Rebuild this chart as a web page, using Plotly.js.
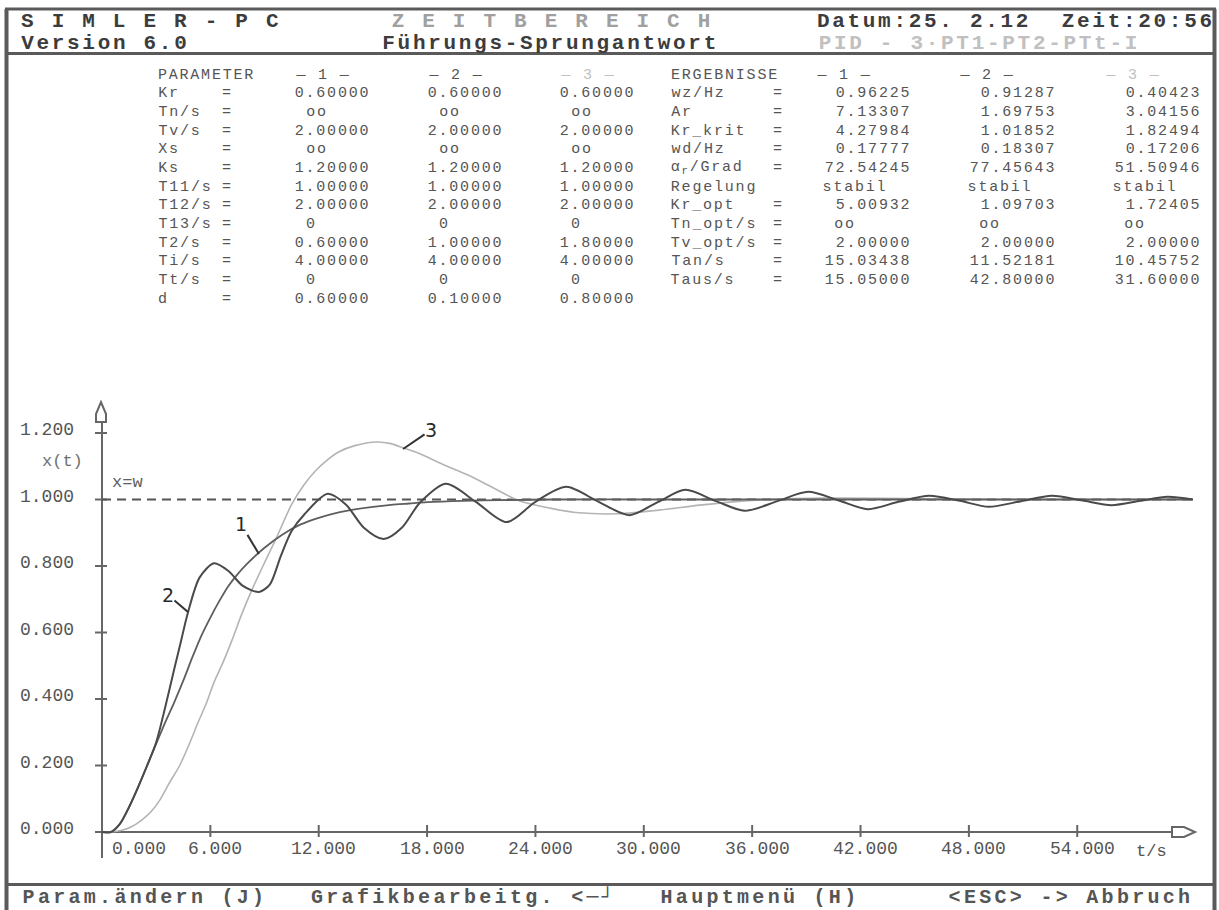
<!DOCTYPE html>
<html><head><meta charset="utf-8">
<script src="https://cdn.plot.ly/plotly-3.0.1.min.js"></script>
<style>html,body{margin:0;padding:0;background:#fff;overflow:hidden;}</style>
<style id="spacing"></style>
</head><body>
<div id="chart" style="width:1219px;height:910px;"></div>
<script>
// ---------------- data ----------------
const timeCurve1 = [0, 0.5, 1.0, 1.5, 2.0, 2.5, 3.0, 3.5, 4.0, 4.5, 5.0, 5.5, 6.0, 6.5, 7.0, 7.5, 8.0, 9.0, 10.0, 11.0, 12.0, 13.0, 14.0, 15.0, 16.0, 17.0, 18.0, 20.0, 22.0, 25.0, 30.0, 40.0, 50.0, 60.4];
const xCurve1    = [0, 0.0, 0.025, 0.075, 0.135, 0.2, 0.265, 0.33, 0.39, 0.455, 0.525, 0.59, 0.645, 0.695, 0.74, 0.775, 0.805, 0.855, 0.895, 0.925, 0.945, 0.96, 0.97, 0.978, 0.984, 0.988, 0.992, 0.996, 0.998, 1.0, 1.0, 1.0, 1.0, 1.0];

const timeCurve2 = [0, 0.5, 1.0, 1.5, 2.0, 2.5, 3.0, 3.5, 4.0, 4.4, 4.76, 5.4, 6.2, 7.0, 7.8, 8.7, 9.3, 9.9, 10.5, 11.2, 12.5, 13.5, 14.5, 15.6, 16.6, 17.6, 19.05, 20.7, 22.4, 24.0, 25.7, 27.5, 29.2, 30.8, 32.3, 34.0, 35.6, 37.4, 39.1, 40.8, 42.4, 44.1, 45.8, 47.5, 49.1, 50.9, 52.6, 54.3, 55.9, 57.5, 59.0, 60.4];
const xCurve2    = [0, 0.0, 0.025, 0.075, 0.135, 0.2, 0.27, 0.375, 0.49, 0.58, 0.66, 0.765, 0.808, 0.785, 0.74, 0.722, 0.745, 0.83, 0.905, 0.955, 1.017, 0.985, 0.915, 0.881, 0.915, 0.99, 1.047, 0.993, 0.932, 0.993, 1.038, 0.993, 0.953, 0.993, 1.029, 0.995, 0.966, 0.995, 1.023, 0.997, 0.971, 0.993, 1.011, 0.996, 0.978, 0.995, 1.011, 0.997, 0.983, 0.996, 1.008, 1.0];

const timeCurve3 = [0, 0.5, 1.1, 1.6, 2.2, 2.7, 3.2, 3.7, 4.3, 4.8, 5.3, 5.8, 6.2, 6.7, 7.2, 7.7, 8.3, 9.0, 9.6, 10.5, 11.2, 11.8, 12.5, 13.1, 14.0, 15.2, 16.0, 16.7, 17.5, 18.5, 19.2, 20.2, 21.5, 23.1, 24.8, 26.4, 28.5, 30.3, 33.1, 34.9, 37.0, 40.0, 45.0, 50.0, 55.0, 60.4];
const xCurve3    = [0, 0, 0.005, 0.015, 0.036, 0.06, 0.096, 0.145, 0.2, 0.26, 0.327, 0.39, 0.45, 0.51, 0.577, 0.65, 0.728, 0.81, 0.878, 0.985, 1.045, 1.085, 1.12, 1.143, 1.162, 1.173, 1.168, 1.155, 1.14, 1.115, 1.098, 1.075, 1.04, 0.996, 0.974, 0.96, 0.957, 0.965, 0.983, 0.993, 1.0, 1.004, 1.003, 1.0, 1.0, 1.0];

const setpointValue = 1.0;
const tEnd = 60.4;

const xTickVals = [0, 6, 12, 18, 24, 30, 36, 42, 48, 54];
const xTickText = ['0.000', '6.000', '12.000', '18.000', '24.000', '30.000', '36.000', '42.000', '48.000', '54.000'];
const yTickVals = [0, 0.2, 0.4, 0.6, 0.8, 1.0, 1.2];
const yTickText = ['0.000', '0.200', '0.400', '0.600', '0.800', '1.000', '1.200'];

const paramNames = ['Kr', 'Tn/s', 'Tv/s', 'Xs', 'Ks', 'T11/s', 'T12/s', 'T13/s', 'T2/s', 'Ti/s', 'Tt/s', 'd'];
const paramSet1 = ['0.60000', 'oo', '2.00000', 'oo', '1.20000', '1.00000', '2.00000', '0', '0.60000', '4.00000', '0', '0.60000'];
const paramSet2 = ['0.60000', 'oo', '2.00000', 'oo', '1.20000', '1.00000', '2.00000', '0', '1.00000', '4.00000', '0', '0.10000'];
const paramSet3 = ['0.60000', 'oo', '2.00000', 'oo', '1.20000', '1.00000', '2.00000', '0', '1.80000', '4.00000', '0', '0.80000'];

const resultNames = ['wz/Hz', 'Ar', 'Kr_krit', 'wd/Hz', 'α<sub>r</sub>/Grad', 'Regelung', 'Kr_opt', 'Tn_opt/s', 'Tv_opt/s', 'Tan/s', 'Taus/s'];
const resultSet1 = ['0.96225', '7.13307', '4.27984', '0.17777', '72.54245', 'stabil', '5.00932', 'oo', '2.00000', '15.03438', '15.05000'];
const resultSet2 = ['0.91287', '1.69753', '1.01852', '0.18307', '77.45643', 'stabil', '1.09703', 'oo', '2.00000', '11.52181', '42.80000'];
const resultSet3 = ['0.40423', '3.04156', '1.82494', '0.17206', '51.50946', 'stabil', '1.72405', 'oo', '2.00000', '10.45752', '31.60000'];

const headerLeft = ['S I M L E R - P C', 'Version 6.0'];
const headerMid = ['Z E I T B E R E I C H', 'Führungs-Sprungantwort'];
const headerRight = ['Datum:25. 2.12  Zeit:20:56', 'PID - 3·PT1-PT2-PTt-I'];
const footerItems = ['Param.ändern (J)', 'Grafikbearbeitg. &lt;─┘', 'Hauptmenü (H)', '&lt;ESC&gt; -&gt; Abbruch'];

// ---------------- geometry ----------------
const W = 1219, H = 910;
const T0PX = 102, PXT = 18.06, Y0PX = 832, PXY = 332.5;
const tOf = px => (px - T0PX) / PXT;
const vOf = py => (Y0PX - py) / PXY;
const MONO = 'Liberation Mono, DejaVu Sans Mono, monospace';

const dark = '#3c3c3c', mid = '#555555';

const annotations = [];
const spacing = [];
function addAnn(a, ls) { annotations.push(a); spacing.push(ls || 0); }
function visLen(s) {
  return s.replace(/<sub>.*?<\/sub>/g, 'x').replace(/<[^>]+>/g, '').replace(/&[a-z]+;/g, 'x').length;
}
// Plotly centres annotation text; letter spacing widens it symmetrically, so compensate.
function ptext(text, px, py, size, color, anchor, ls) {
  anchor = anchor || 'left';
  let shift = 0;
  if (ls) {
    const grow = visLen(text) * ls;
    if (anchor === 'left') shift = grow / 2;
    else if (anchor === 'right') shift = -(grow / 2 - ls);
  }
  addAnn({
    xref: 'paper', yref: 'paper', x: px / W, y: 1 - py / H, xshift: shift,
    xanchor: anchor, yanchor: 'middle', text: text, showarrow: false,
    borderpad: 0, font: {family: MONO, size: size, color: color}
  }, ls);
}

// header (bitmap-like wide monospace: font + letter spacing -> ~15.3 px cell)
const hdrY = [21, 43];
const HS = 21, HLS = 2.7;
ptext('<b>' + headerLeft[0] + '</b>', 20, hdrY[0], HS, dark, 'left', HLS);
ptext('<b>' + headerLeft[1] + '</b>', 20, hdrY[1], HS, dark, 'left', HLS);
ptext('<b>' + headerMid[0] + '</b>', 391, hdrY[0], HS, '#a0a0a0', 'left', HLS);
ptext('<b>' + headerMid[1] + '</b>', 381, hdrY[1], HS, dark, 'left', HLS);
ptext('<b>' + headerRight[0] + '</b>', 816, hdrY[0], HS, dark, 'left', HLS);
ptext('<b>' + headerRight[1] + '</b>', 818, hdrY[1], HS, '#c0c0c0', 'left', HLS);
// footer
const FS = 20, FLS = 3.3;
const footX = [22, 310, 660, 948];
footerItems.forEach((s, i) => ptext('<b>' + s + '</b>', footX[i], 897, FS, mid, 'left', FLS));

// parameter table
const TS = 15, TLS = 1.8;
const row0 = 75, rowH = 18.67;
const lColX = [294, 427, 559];
ptext('PARAMETER', 157, row0, TS, mid, 'left', TLS);
['\u2014 1 \u2014', '\u2014 2 \u2014', '\u2014 3 \u2014'].forEach((s, i) =>
  ptext(s, lColX[i], row0, TS, i === 2 ? '#c0c0c0' : mid, 'left', TLS));
const pSets = [paramSet1, paramSet2, paramSet3];
paramNames.forEach((nm, r) => {
  const py = row0 + rowH * (r + 1);
  ptext(nm, 157, py, TS, mid, 'left', TLS);
  ptext('=', 221, py, TS, mid, 'left', TLS);
  pSets.forEach((set, c) => {
    const v = set[r];
    const off = (v === 'oo' || v === '0') ? 11 : 0;
    ptext(v, lColX[c] + off, py, TS, mid, 'left', TLS);
  });
});

// results table
const rEdge = [910, 1055, 1200];
const rHead = [815, 958, 1104];
ptext('ERGEBNISSE', 670, row0, TS, mid, 'left', TLS);
['\u2014 1 \u2014', '\u2014 2 \u2014', '\u2014 3 \u2014'].forEach((s, i) =>
  ptext(s, rHead[i], row0, TS, i === 2 ? '#c0c0c0' : mid, 'left', TLS));
const rSets = [resultSet1, resultSet2, resultSet3];
resultNames.forEach((nm, r) => {
  const py = row0 + rowH * (r + 1);
  ptext(nm, 670, py, TS, mid, 'left', TLS);
  if (nm !== 'Regelung') ptext('=', 772, py, TS, mid, 'left', TLS);
  rSets.forEach((set, c) => {
    const v = set[r];
    if (v === 'oo') ptext(v, rEdge[c] - 77, py, TS, mid, 'left', TLS);
    else if (v === 'stabil') ptext(v, rEdge[c] - 88, py, TS, mid, 'left', TLS);
    else ptext(v, rEdge[c], py, TS, mid, 'right', TLS);
  });
});

// axis tick labels
yTickVals.forEach((v, i) => addAnn({
  xref: 'paper', yref: 'y', x: 75 / W, y: v, yshift: 3, xanchor: 'right', yanchor: 'middle',
  text: yTickText[i], showarrow: false, borderpad: 0, font: {family: MONO, size: 18, color: mid}
}));
xTickVals.forEach((v, i) => addAnn({
  xref: 'x', yref: 'paper', x: v, y: 1 - 849 / H, xshift: v === 0 ? 36.5 : 5, xanchor: 'center', yanchor: 'middle',
  text: xTickText[i], showarrow: false, borderpad: 0, font: {family: MONO, size: 18, color: mid}
}));
ptext('x(t)', 62, 461, 17, '#707070', 'center');
ptext('x=w', 127, 482, 17, '#606060', 'center');
ptext('t/s', 1151, 851, 17, mid, 'center');

// curve labels
const curveLabels = [
  {text: '1', t: 8.69, v: 0.836, ax: -18, ay: -30},
  {text: '2', t: 4.76, v: 0.662, ax: -20, ay: -17},
  {text: '3', t: 16.67, v: 1.152, ax: 28, ay: -19}
];
curveLabels.forEach(c => addAnn({
  xref: 'x', yref: 'y', x: c.t, y: c.v, ax: c.ax, ay: c.ay, text: c.text,
  showarrow: true, arrowhead: 0, arrowwidth: 2, arrowcolor: '#333', standoff: 0, borderpad: 0,
  font: {family: 'DejaVu Sans, sans-serif', size: 19, color: '#2a2a2a'}
}));

// letter spacing rules for the bitmap-style texts
document.getElementById('spacing').textContent = spacing.map((ls, i) =>
  ls ? 'g.annotation[data-index="' + i + '"] text{letter-spacing:' + ls + 'px;}' : '').join('\n');

// ---------------- shapes ----------------
const axisCol = '#666666';
const shapes = [];
function pline(x0, y0, x1, y1, w, col) {
  shapes.push({type: 'line', xref: 'paper', yref: 'paper', x0: x0 / W, y0: 1 - y0 / H, x1: x1 / W, y1: 1 - y1 / H,
    line: {color: col || '#5a5a5a', width: w}, layer: 'above'});
}
// frame
pline(6.5, 9, 6.5, 910, 4);
pline(1214.5, 9, 1214.5, 910, 4);
pline(5, 9, 1216, 9, 3);
pline(5, 53.5, 1216, 53.5, 3);
pline(5, 884.5, 1216, 884.5, 3);

function dline(t0, v0, t1, v1, w, col, dash) {
  shapes.push({type: 'line', xref: 'x', yref: 'y', x0: t0, y0: v0, x1: t1, y1: v1,
    line: {color: col, width: w, dash: dash || 'solid'}, layer: 'below'});
}
// axes
dline(0, vOf(858), 0, vOf(422), 2, axisCol);
dline(tOf(95), 0, tOf(1172), 0, 2, axisCol);
// ticks (crossing the axis)
xTickVals.filter(v => v > 0).forEach(v => dline(v, vOf(825), v, vOf(837), 2, axisCol));
yTickVals.filter(v => v > 0).forEach(v => dline(tOf(95), v, tOf(107), v, 2, axisCol));
// hollow arrow heads
function dpath(pts) {
  return 'M ' + pts.map(p => tOf(p[0]) + ',' + vOf(p[1])).join(' L ') + ' Z';
}
shapes.push({type: 'path', xref: 'x', yref: 'y', layer: 'below', fillcolor: '#ffffff',
  line: {color: axisCol, width: 2},
  path: dpath([[96, 422], [96, 414], [101, 402], [106, 414], [106, 422]])});
shapes.push({type: 'path', xref: 'x', yref: 'y', layer: 'below', fillcolor: '#ffffff',
  line: {color: axisCol, width: 2},
  path: dpath([[1172, 827], [1184, 827], [1195, 832], [1184, 837], [1172, 837]])});
// setpoint line x = w
dline(0, setpointValue, tEnd, setpointValue, 2, '#555555', '9px,6px');

// ---------------- traces ----------------
const traces = [
  {x: timeCurve3, y: xCurve3, type: 'scatter', mode: 'lines', name: '3',
    line: {color: '#b4b4b4', width: 1.6, shape: 'spline', smoothing: 0.8}, hoverinfo: 'skip'},
  {x: timeCurve1, y: xCurve1, type: 'scatter', mode: 'lines', name: '1',
    line: {color: '#5e5e5e', width: 1.8, shape: 'spline', smoothing: 0.8}, hoverinfo: 'skip'},
  {x: timeCurve2, y: xCurve2, type: 'scatter', mode: 'lines', name: '2',
    line: {color: '#4a4a4a', width: 2, shape: 'spline', smoothing: 0.8}, hoverinfo: 'skip'}
];

const layout = {
  width: W, height: H,
  margin: {l: 0, r: 0, t: 0, b: 0, pad: 0},
  paper_bgcolor: '#ffffff', plot_bgcolor: '#ffffff',
  showlegend: false,
  xaxis: {range: [-T0PX / PXT, (W - T0PX) / PXT], visible: false, fixedrange: true, domain: [0, 1]},
  yaxis: {range: [(Y0PX - H) / PXY, Y0PX / PXY], visible: false, fixedrange: true, domain: [0, 1]},
  annotations: annotations,
  shapes: shapes
};

Plotly.newPlot('chart', traces, layout, {staticPlot: true, displayModeBar: false});
</script>
</body></html>
